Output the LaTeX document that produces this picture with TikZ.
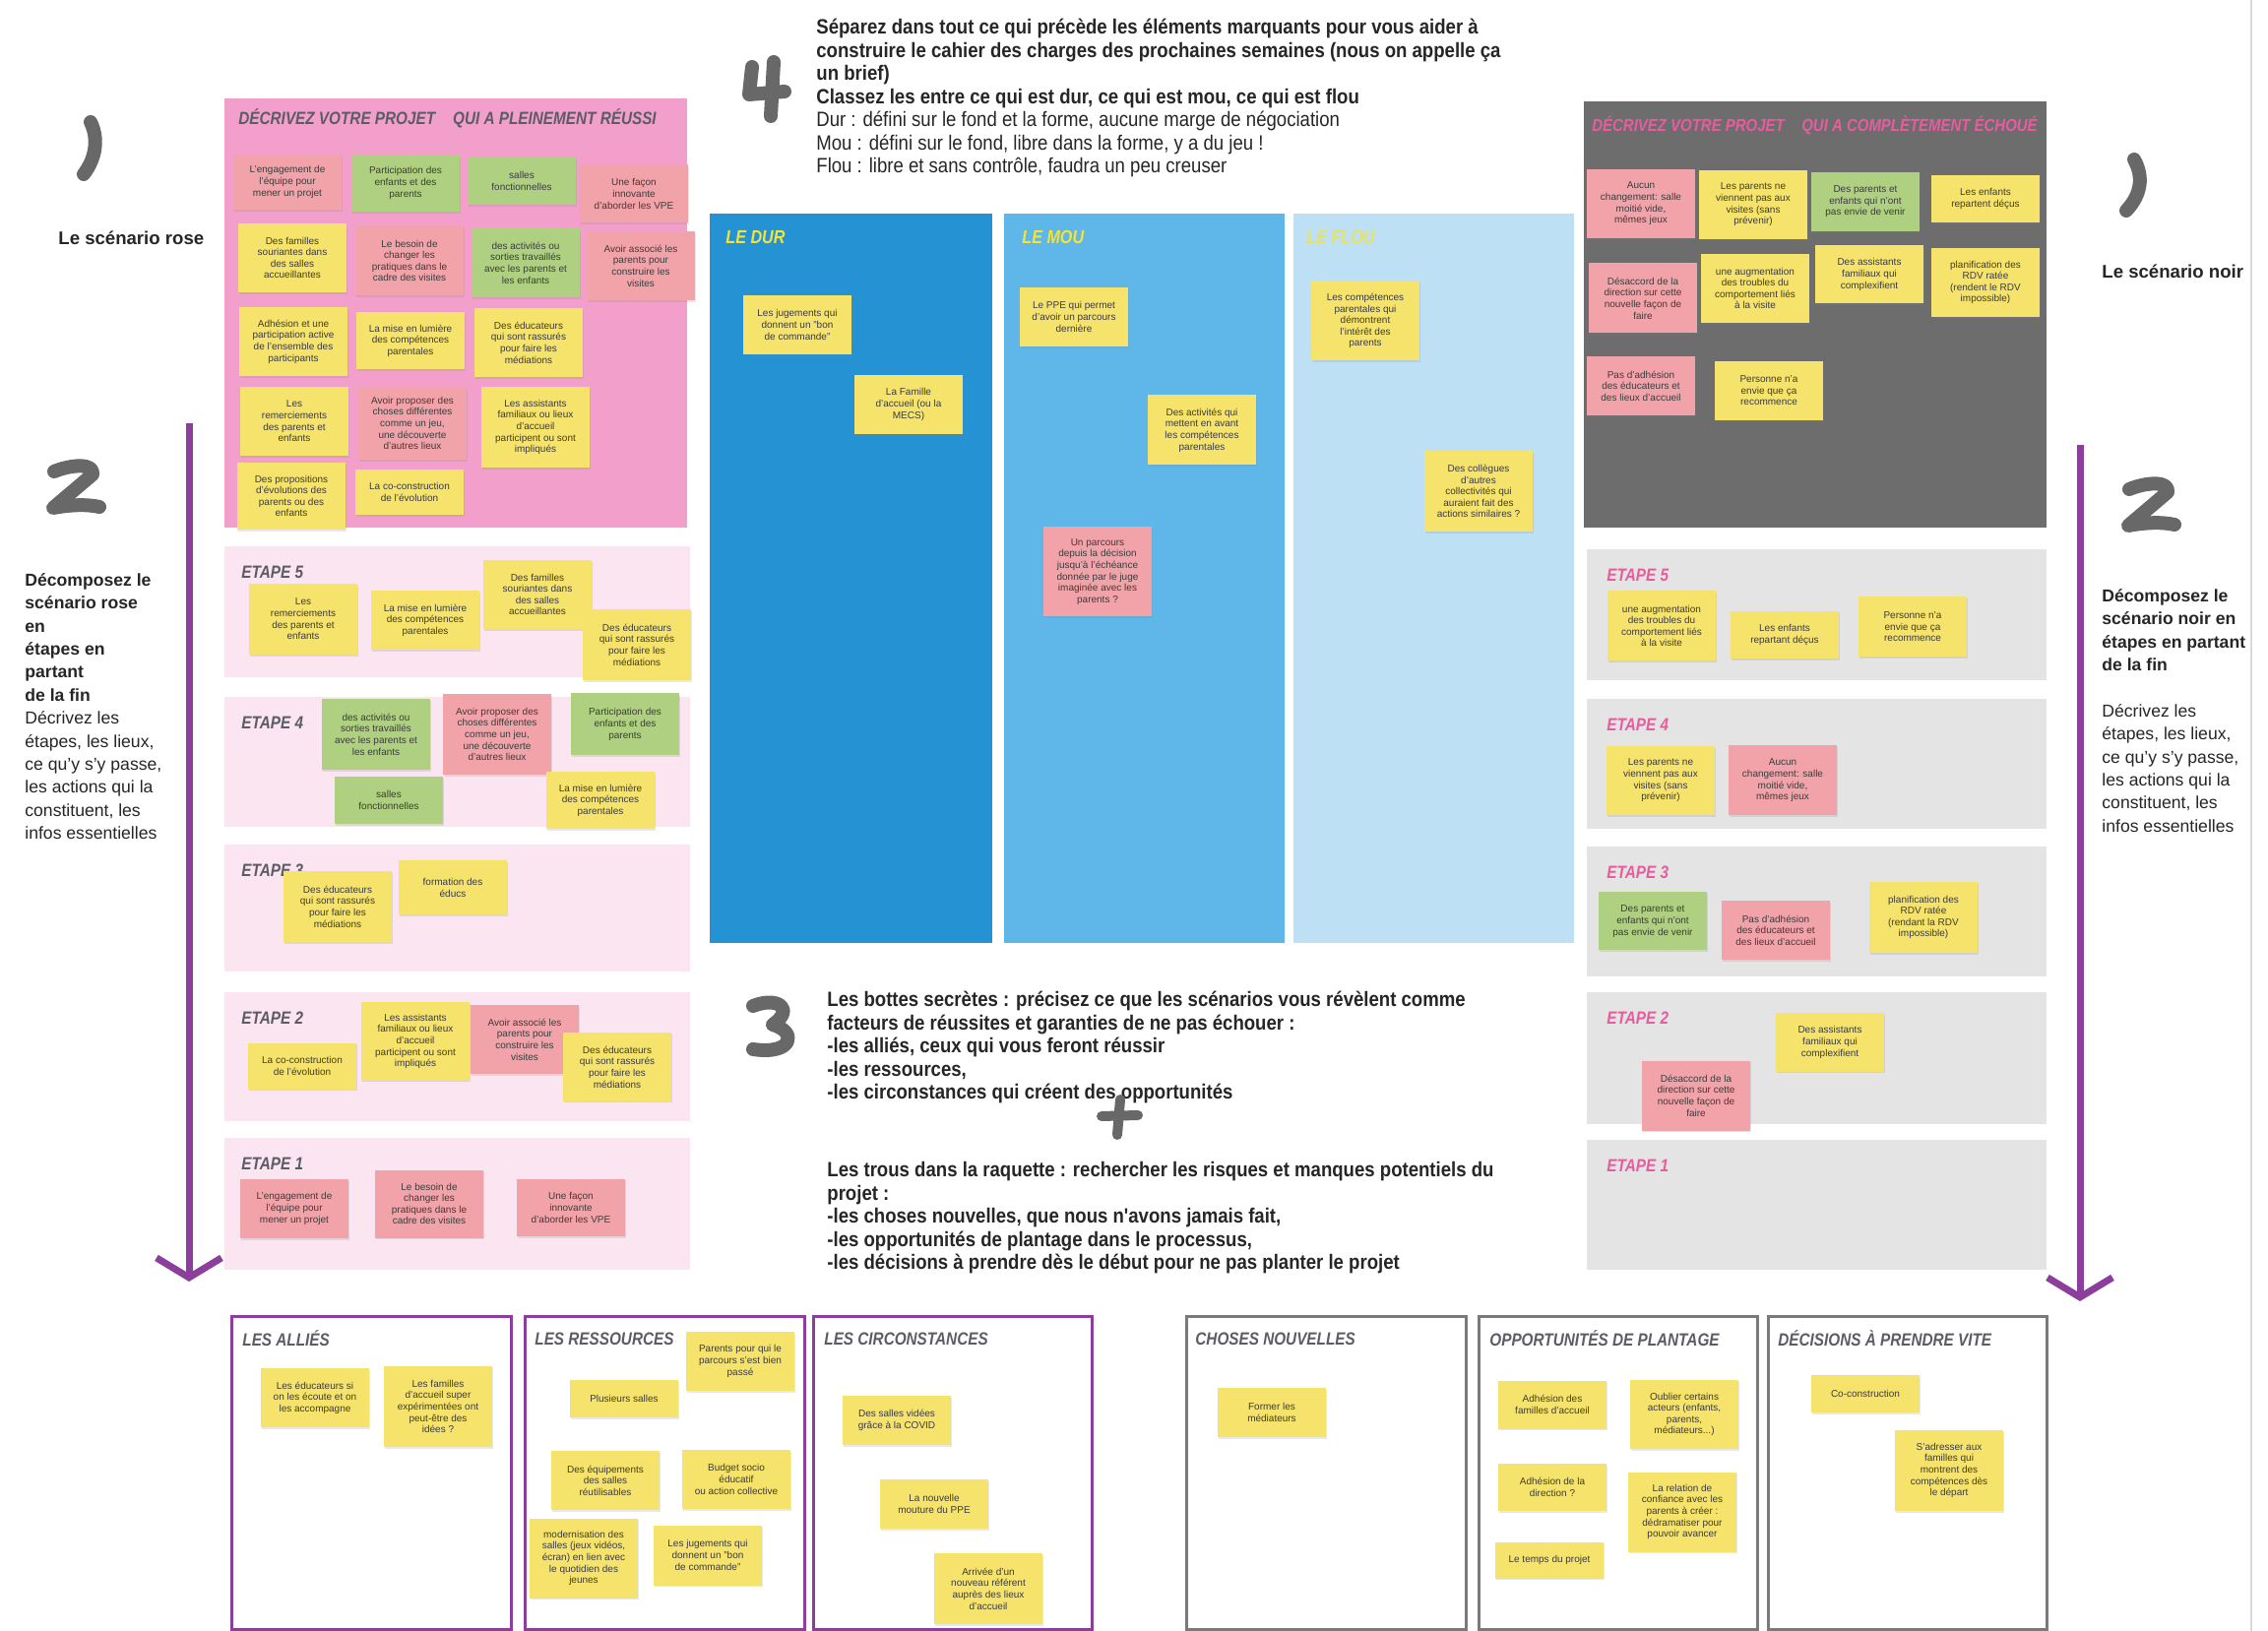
\documentclass[tikz,border=0pt]{standalone}
\usepackage{fontspec}
\setmainfont{Liberation Sans}
\newfontfamily\narrowfont[FakeStretch=0.885]{Liberation Sans}
\newfontfamily\handfont[FakeStretch=0.85]{Liberation Sans}
\usetikzlibrary{positioning}
\usetikzlibrary{arrows.meta}
\usetikzlibrary{shadows}

\definecolor{noteyellow}{HTML}{F6E36C}
\definecolor{notepink}{HTML}{F1A3A9}
\definecolor{notegreen}{HTML}{AFD081}
\definecolor{notetext}{HTML}{3C3C3C}
\definecolor{rosepanel}{HTML}{F2A0CB}
\definecolor{roseband}{HTML}{FBE5F0}
\definecolor{darkpanel}{HTML}{6D6D6D}
\definecolor{grayband}{HTML}{E4E4E4}
\definecolor{durblue}{HTML}{2592D3}
\definecolor{moublue}{HTML}{5EB7E8}
\definecolor{floublue}{HTML}{BEE0F5}
\definecolor{arrowpurple}{HTML}{8B3E9C}
\definecolor{boxgray}{HTML}{7A7A7A}
\definecolor{markgray}{HTML}{686868}
\definecolor{titlegray}{HTML}{5C5C66}
\definecolor{failpink}{HTML}{E85C9E}
\definecolor{markyellow}{HTML}{F3E33A}

\newcommand{\notefont}{\fontsize{5}{5.8}\selectfont}

\tikzset{
  note/.style={minimum width=55pt, inner sep=1pt, align=center, text=notetext, font=\notefont,
    drop shadow={shadow xshift=0.4pt, shadow yshift=-0.8pt, opacity=0.18}},
  yel/.style={note, fill=noteyellow},
  pnk/.style={note, fill=notepink},
  grn/.style={note, fill=notegreen},
  ht/.style={minimum height=#1*0.5pt},
  scrawl/.style={draw=markgray, line width=7pt, line cap=round, line join=round},
  sidearrow/.style={draw=arrowpurple, line width=3.5pt, -{Straight Barb[length=10pt,width=33pt]}},
  handtitle/.style={anchor=west, inner sep=0pt, font=\handfont\bfseries\itshape\fontsize{9}{10}\selectfont},
  etape/.style={handtitle, font=\handfont\bfseries\itshape\fontsize{9}{10}\selectfont},
  boxtitle/.style={handtitle, text=titlegray, font=\handfont\bfseries\itshape\fontsize{9}{10}\selectfont},
  coltitle/.style={handtitle, font=\handfont\bfseries\itshape\fontsize{9.5}{10}\selectfont},
  alliebox/.style={draw=arrowpurple, line width=1.5pt},
  riskbox/.style={draw=boxgray, line width=1.5pt},
  sidetext/.style={anchor=north west, inner sep=0pt, align=left, text=black!85, font=\fontsize{8.8}{11.7}\selectfont},
  sidehead/.style={anchor=west, inner sep=0pt, text=black!85, font=\bfseries\fontsize{9.3}{10}\selectfont},
  brief/.style={anchor=north west, inner sep=0pt, align=left, text=black!85, font=\narrowfont\fontsize{10.5}{11.75}\selectfont},
}

\begin{document}
\begin{tikzpicture}[x=0.5pt, y=-0.5pt]
    \useasboundingbox (0,0) rectangle (2304,1657);
    \fill[white] (0,0) rectangle (2304,1657);
    \draw[black!15, line width=1pt] (2287,0) -- (2287,1657);

    % left side: scenario rose
    \draw[scrawl] (92,124) .. controls (100,140) and (98,160) .. (85,177);
    \node[sidehead] (rose) at (59,242) {Le scénario rose};
    \draw[scrawl] (55,479) .. controls (72,472) and (96,470) .. (94,482) -- (54,516) .. controls (70,513) and (88,512) .. (101,515);
    \node[sidetext] (decrose) at (25,582) {\bfseries Décomposez le\\\bfseries scénario rose\\\bfseries en\\\bfseries étapes en\\\bfseries partant\\\bfseries de la fin\\Décrivez les\\étapes, les lieux,\\ce qu'y s'y passe,\\les actions qui la\\constituent, les\\infos essentielles};
    \coordinate (la1) at (192,430);
    \coordinate (la2) at (192,1302);
    \draw[sidearrow] (la1) -- (la2);

    % right side: scenario noir
    \draw[scrawl] (2168,162) .. controls (2178,180) and (2175,198) .. (2160,214);
    \node[sidehead] (noir) at (2135,276) {Le scénario noir};
    \draw[scrawl] (2163,497) .. controls (2180,490) and (2204,488) .. (2202,500) -- (2162,534) .. controls (2178,531) and (2196,530) .. (2209,533);
    \node[sidetext] (decnoir) at (2135,598) {\bfseries Décomposez le\\\bfseries scénario noir en\\\bfseries étapes en partant\\\bfseries de la fin\\[11.7pt]Décrivez les\\étapes, les lieux,\\ce qu'y s'y passe,\\les actions qui la\\constituent, les\\infos essentielles};
    \coordinate (ra1) at (2113,452);
    \coordinate (ra2) at (2113,1322);
    \draw[sidearrow] (ra1) -- (ra2);

    % 1: scenario rose panel
    \fill[rosepanel] (228,100) rectangle (698,536);
    \node[handtitle, text=titlegray] (rosetitle) at (242,120) {DÉCRIVEZ VOTRE PROJET\quad QUI A PLEINEMENT RÉUSSI};
    \node[pnk,ht=56] (ra) at (292,185) {L'engagement de\\l'équipe pour\\mener un projet};
    \node[grn,ht=58] (rb) at (412,186) {Participation des\\enfants et des\\parents};
    \node[grn,ht=48] (rc) at (530,184) {salles\\fonctionnelles};
    \node[pnk,ht=59] (rd) at (644,197) {Une façon\\innovante\\d'aborder les VPE};
    \node[yel,ht=70] (re) at (297,262) {Des familles\\souriantes dans\\des salles\\accueillantes};
    \node[pnk,ht=70] (rf) at (416,265) {Le besoin de\\changer les\\pratiques dans le\\cadre des visites};
    \node[grn,ht=70] (rg) at (534,267) {des activités ou\\sorties travaillés\\avec les parents et\\les enfants};
    \node[pnk,ht=70] (rh) at (651,270) {Avoir associé les\\parents pour\\construire les\\visites};
    \node[yel,ht=70] (ri) at (298,347) {Adhésion et une\\participation active\\de l'ensemble des\\participants};
    \node[yel,ht=58] (rj) at (417,346) {La mise en lumière\\des compétences\\parentales};
    \node[yel,ht=70] (rk) at (537,348) {Des éducateurs\\qui sont rassurés\\pour faire les\\médiations};
    \node[yel,ht=70] (rl) at (299,428) {Les\\remerciements\\des parents et\\enfants};
    \node[pnk,ht=74] (rm) at (419,430) {Avoir proposer des\\choses différentes\\comme un jeu,\\une découverte\\d'autres lieux};
    \node[yel,ht=82] (rn) at (544,434) {Les assistants\\familiaux ou lieux\\d'accueil\\participent ou sont\\impliqués};
    \node[yel,ht=68] (ro) at (296,504) {Des propositions\\d'évolutions des\\parents ou des\\enfants};
    \node[yel,ht=46] (rp) at (416,500) {La co-construction\\de l'évolution};

    % 2: etapes du scenario rose
    \foreach \ya/\yb/\k in {555/688/5, 708/840/4, 858/987/3, 1008/1139/2, 1156/1290/1} {
        \fill[roseband] (228,\ya) rectangle (701,\yb);
        \node[etape, text=titlegray] (le\k) at (245,\ya+26) {ETAPE \k};
    }
    \node[yel,ht=72] (l5a) at (308,629) {Les\\remerciements\\des parents et\\enfants};
    \node[yel,ht=60] (l5b) at (432,630) {La mise en lumière\\des compétences\\parentales};
    \node[yel,ht=70] (l5c) at (546,604) {Des familles\\souriantes dans\\des salles\\accueillantes};
    \node[yel,ht=72] (l5d) at (647,655) {Des éducateurs\\qui sont rassurés\\pour faire les\\médiations};
    \node[grn,ht=72] (l4a) at (382,746) {des activités ou\\sorties travaillés\\avec les parents et\\les enfants};
    \node[pnk,ht=82] (l4b) at (505,746) {Avoir proposer des\\choses différentes\\comme un jeu,\\une découverte\\d'autres lieux};
    \node[grn,ht=63] (l4c) at (635,736) {Participation des\\enfants et des\\parents};
    \node[grn,ht=48] (l4d) at (395,813) {salles\\fonctionnelles};
    \node[yel,ht=58] (l4e) at (610,813) {La mise en lumière\\des compétences\\parentales};
    \node[yel,ht=72] (l3a) at (343,921) {Des éducateurs\\qui sont rassurés\\pour faire les\\médiations};
    \node[yel,ht=55] (l3b) at (460,902) {formation des\\éducs};
    \node[yel,ht=47] (l2a) at (307,1083) {La co-construction\\de l'évolution};
    \node[yel,ht=79] (l2b) at (422,1058) {Les assistants\\familiaux ou lieux\\d'accueil\\participent ou sont\\impliqués};
    \node[pnk,ht=70] (l2c) at (533,1056) {Avoir associé les\\parents pour\\construire les\\visites};
    \node[yel,ht=69] (l2d) at (627,1084) {Des éducateurs\\qui sont rassurés\\pour faire les\\médiations};
    \node[pnk,ht=60] (l1a) at (299,1228) {L'engagement de\\l'équipe pour\\mener un projet};
    \node[pnk,ht=69] (l1b) at (436,1223) {Le besoin de\\changer les\\pratiques dans le\\cadre des visites};
    \node[pnk,ht=58] (l1c) at (580,1227) {Une façon\\innovante\\d'aborder les VPE};

    % 4: dur, mou, flou
    \draw[scrawl] (764,68) -- (761,96) -- (797,93);
    \draw[scrawl] (786,63) -- (783,118);
    \node[brief] (consigne4) at (829,19) {\bfseries Séparez dans tout ce qui précède les éléments marquants pour vous aider à\\\bfseries construire le cahier des charges des prochaines semaines (nous on appelle ça\\\bfseries un brief)\\\bfseries Classez les entre ce qui est dur, ce qui est mou, ce qui est flou\\Dur : défini sur le fond et la forme, aucune marge de négociation\\Mou : défini sur le fond, libre dans la forme, y a du jeu !\\Flou : libre et sans contrôle, faudra un peu creuser};
    \fill[durblue] (721,217) rectangle (1008,958);
    \fill[moublue] (1020,217) rectangle (1305,958);
    \fill[floublue] (1314,217) rectangle (1599,958);
    \node[coltitle, text=markyellow] (dur) at (737,241) {LE DUR};
    \node[coltitle, text=markyellow] (mou) at (1038,241) {LE MOU};
    \node[coltitle, text=markyellow!80!floublue] (flou) at (1327,241) {LE FLOU};
    \node[yel,ht=60] (da) at (810,330) {Les jugements qui\\donnent un "bon\\de commande"};
    \node[yel,ht=60] (db) at (923,411) {La Famille\\d'accueil (ou la\\MECS)};
    \node[yel,ht=60] (ma) at (1091,322) {Le PPE qui permet\\d'avoir un parcours\\dernière};
    \node[yel,ht=71] (mb) at (1221,437) {Des activités qui\\mettent en avant\\les compétences\\parentales};
    \node[pnk,ht=91] (mc) at (1115,581) {Un parcours\\depuis la décision\\jusqu'à l'échéance\\donnée par le juge\\imaginée avec les\\parents ?};
    \node[yel,ht=81] (fa) at (1387,326) {Les compétences\\parentales qui\\démontrent\\l'intérêt des\\parents};
    \node[yel,ht=82] (fb) at (1502,499) {Des collègues\\d'autres\\collectivités qui\\auraient fait des\\actions similaires ?};

    % 1: scenario noir panel
    \fill[darkpanel] (1609,103) rectangle (2079,536);
    \node[handtitle, text=failpink, font=\handfont\bfseries\itshape\fontsize{8.8}{10}\selectfont] (noirtitle) at (1617,127) {DÉCRIVEZ VOTRE PROJET\quad QUI A COMPLÈTEMENT ÉCHOUÉ};
    \node[pnk,ht=70] (na) at (1667,207) {Aucun\\changement: salle\\moitié vide,\\mêmes jeux};
    \node[yel,ht=70] (nb) at (1781,208) {Les parents ne\\viennent pas aux\\visites (sans\\prévenir)};
    \node[grn,ht=60] (nc) at (1895,205) {Des parents et\\enfants qui n'ont\\pas envie de venir};
    \node[yel,ht=48] (nd) at (2017,202) {Les enfants\\repartent déçus};
    \node[pnk,ht=71] (ne) at (1669,303) {Désaccord de la\\direction sur cette\\nouvelle façon de\\faire};
    \node[yel,ht=70] (nf) at (1783,293) {une augmentation\\des troubles du\\comportement liés\\à la visite};
    \node[yel,ht=59] (ng) at (1899,279) {Des assistants\\familiaux qui\\complexifient};
    \node[yel,ht=70] (nh) at (2017,287) {planification des\\RDV ratée\\(rendent le RDV\\impossible)};
    \node[pnk,ht=60] (ni) at (1667,392) {Pas d'adhésion\\des éducateurs et\\des lieux d'accueil};
    \node[yel,ht=60] (nj) at (1797,397) {Personne n'a\\envie que ça\\recommence};

    % 2: etapes du scenario noir
    \foreach \ya/\yb/\k in {558/691/5, 710/842/4, 860/992/3, 1008/1142/2, 1158/1290/1} {
        \fill[grayband] (1612,\ya) rectangle (2079,\yb);
        \node[etape, text=failpink] (re\k) at (1632,\ya+26) {ETAPE \k};
    }
    \node[yel,ht=71] (r5a) at (1688,636) {une augmentation\\des troubles du\\comportement liés\\à la visite};
    \node[yel,ht=48] (r5b) at (1813,645) {Les enfants\\repartant déçus};
    \node[yel,ht=61] (r5c) at (1943,637) {Personne n'a\\envie que ça\\recommence};
    \node[yel,ht=70] (r4a) at (1687,793) {Les parents ne\\viennent pas aux\\visites (sans\\prévenir)};
    \node[pnk,ht=71] (r4b) at (1811,793) {Aucun\\changement: salle\\moitié vide,\\mêmes jeux};
    \node[grn,ht=59] (r3a) at (1679,936) {Des parents et\\enfants qui n'ont\\pas envie de venir};
    \node[pnk,ht=60] (r3b) at (1804,945) {Pas d'adhésion\\des éducateurs et\\des lieux d'accueil};
    \node[yel,ht=72] (r3c) at (1954,932) {planification des\\RDV ratée\\(rendant la RDV\\impossible)};
    \node[yel,ht=59] (r2a) at (1859,1059) {Des assistants\\familiaux qui\\complexifient};
    \node[pnk,ht=71] (r2b) at (1723,1113) {Désaccord de la\\direction sur cette\\nouvelle façon de\\faire};

    % 3: bottes secretes + trous dans la raquette
    \draw[scrawl] (765,1022) .. controls (790,1012) and (808,1025) .. (785,1041) .. controls (810,1048) and (806,1072) .. (765,1066);
    \node[brief] (consigne3a) at (840,1007) {\bfseries Les bottes secrètes : précisez ce que les scénarios vous révèlent comme\\\bfseries facteurs de réussites et garanties de ne pas échouer :\\\bfseries -les alliés, ceux qui vous feront réussir\\\bfseries -les ressources,\\\bfseries -les circonstances qui créent des opportunités};
    \draw[scrawl, line width=5pt] (1138,1117) -- (1135,1153);
    \draw[scrawl, line width=5pt] (1119,1134) -- (1156,1133);
    \node[brief] (consigne3b) at (840,1180) {\bfseries Les trous dans la raquette : rechercher les risques et manques potentiels du\\\bfseries projet :\\\bfseries -les choses nouvelles, que nous n'avons jamais fait,\\\bfseries -les opportunités de plantage dans le processus,\\\bfseries -les décisions à prendre dès le début pour ne pas planter le projet};

    % bottom boxes
    \draw[alliebox] (235,1337) rectangle (519,1655);
    \draw[alliebox] (533,1337) rectangle (817,1655);
    \draw[alliebox] (826,1337) rectangle (1109,1655);
    \draw[riskbox] (1205,1337) rectangle (1489,1655);
    \draw[riskbox] (1502,1337) rectangle (1785,1655);
    \draw[riskbox] (1796,1337) rectangle (2079,1655);
    \node[boxtitle] (allies) at (246,1360) {LES ALLIÉS};
    \node[boxtitle] (ressources) at (543,1360) {LES RESSOURCES};
    \node[boxtitle] (circonstances) at (837,1360) {LES CIRCONSTANCES};
    \node[boxtitle] (choses) at (1214,1360) {CHOSES NOUVELLES};
    \node[boxtitle] (plantage) at (1513,1360) {OPPORTUNITÉS DE PLANTAGE};
    \node[boxtitle] (decisions) at (1806,1360) {DÉCISIONS À PRENDRE VITE};
    \node[yel,ht=60] (aa) at (320,1420) {Les éducateurs si\\on les écoute et on\\les accompagne};
    \node[yel,ht=82] (ab) at (445,1429) {Les familles\\d'accueil super\\expérimentées ont\\peut-être des\\idées ?};
    \node[yel,ht=60] (sa) at (752,1383) {Parents pour qui le\\parcours s'est bien\\passé};
    \node[yel,ht=38] (sb) at (634,1421) {Plusieurs salles};
    \node[yel,ht=60] (sc) at (615,1504) {Des équipements\\des salles\\réutilisables};
    \node[yel,ht=60] (sd) at (748,1503) {Budget socio\\éducatif\\ou action collective};
    \node[yel,ht=81] (se) at (593,1583) {modernisation des\\salles (jeux vidéos,\\écran) en lien avec\\le quotidien des\\jeunes};
    \node[yel,ht=61] (sf) at (719,1580) {Les jugements qui\\donnent un "bon\\de commande"};
    \node[yel,ht=50] (ca) at (911,1443) {Des salles vidées\\grâce à la COVID};
    \node[yel,ht=50] (cb) at (949,1528) {La nouvelle\\mouture du PPE};
    \node[yel,ht=72] (cc) at (1004,1614) {Arrivée d'un\\nouveau référent\\auprès des lieux\\d'accueil};
    \node[yel,ht=50] (na1) at (1292,1435) {Former les\\médiateurs};
    \node[yel,ht=49] (pa) at (1577,1427) {Adhésion des\\familles d'accueil};
    \node[yel,ht=70] (pb) at (1711,1437) {Oublier certains\\acteurs (enfants,\\parents,\\médiateurs...)};
    \node[yel,ht=48] (pc) at (1577,1511) {Adhésion de la\\direction ?};
    \node[yel,ht=81] (pd) at (1709,1536) {La relation de\\confiance avec les\\parents à créer :\\dédramatiser pour\\pouvoir avancer};
    \node[yel,ht=37] (pe) at (1574,1585) {Le temps du projet};
    \node[yel,ht=38] (va) at (1895,1416) {Co-construction};
    \node[yel,ht=82] (vb) at (1980,1494) {S'adresser aux\\familles qui\\montrent des\\compétences dès\\le départ};
\end{tikzpicture}
\end{document}
